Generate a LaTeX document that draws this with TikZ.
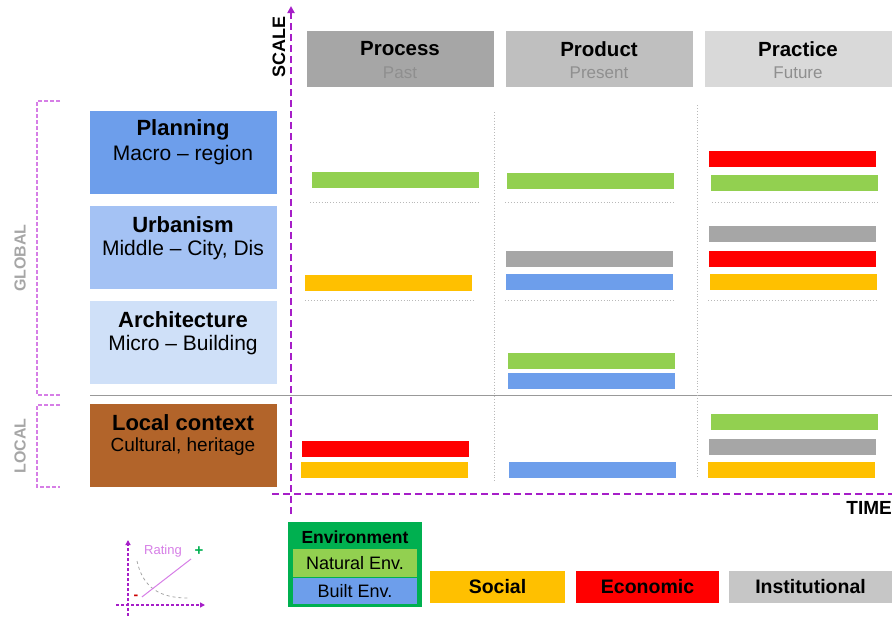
\documentclass[tikz,border=0pt]{standalone}
\usepackage{fontspec}
\setmainfont{Liberation Sans}
\usetikzlibrary{arrows.meta}
\definecolor{axispurple}{HTML}{A61EC8}
\definecolor{bracketpink}{HTML}{D67EE6}
\definecolor{planblue}{HTML}{6D9EEB}
\definecolor{urbblue}{HTML}{A4C2F4}
\definecolor{archblue}{HTML}{CFE0F8}
\definecolor{localbrown}{HTML}{B2642A}
\definecolor{envgreen}{HTML}{00B050}
\definecolor{natgreen}{HTML}{92D050}
\definecolor{socyellow}{HTML}{FFC000}
\definecolor{ecored}{HTML}{FF0000}
\definecolor{instgray}{HTML}{A6A6A6}
\definecolor{subgray}{HTML}{8F8F8F}
\tikzset{
  box/.style={rectangle,inner sep=0pt,outer sep=0pt,minimum width=187pt,minimum height=83pt},
  head/.style={rectangle,inner sep=0pt,outer sep=0pt,minimum width=187pt,minimum height=56pt},
  bar/.style={rectangle,inner sep=0pt,outer sep=0pt,minimum width=167pt,minimum height=16pt},
  key/.style={rectangle,inner sep=0pt,outer sep=0pt,minimum height=32pt,font=\bfseries\fontsize{19.5}{22}\selectfont},
  ttl/.style={font=\bfseries\fontsize{20.5}{24}\selectfont},
  rowttl/.style={font=\bfseries\fontsize{22}{26}\selectfont},
  sub/.style={font=\fontsize{21}{25}\selectfont},
  headsub/.style={text=subgray,font=\fontsize{17}{20}\selectfont},
  side/.style={rotate=90,text=instgray,font=\bfseries\fontsize{16}{19}\selectfont},
  axis/.style={axispurple,line width=2.8pt,dash pattern=on 7pt off 4pt},
  brack/.style={bracketpink,line width=1.2pt,dash pattern=on 4pt off 2pt},
  sep/.style={gray!55,line width=0.9pt,dotted}
}
\begin{document}
\begin{tikzpicture}[x=1pt,y=-1pt]
\useasboundingbox (0,0) rectangle (892,619);
% column heads
\node[head,fill=instgray] (process) at (400,59) {};
\node[head,fill=gray!50] (product) at (599,59) {};
\node[head,fill=gray!30] (practice) at (798,59) {};
\node[ttl] (processt) at (400,49) {Process};
\node[headsub] (processs) at (400,73) {Past};
\node[ttl] (productt) at (599,49) {Product};
\node[headsub] (products) at (599,73) {Present};
\node[ttl] (practicet) at (798,49) {Practice};
\node[headsub] (practices) at (798,73) {Future};
% scale rows
\node[box,fill=planblue] (plan) at (183,152.5) {};
\node[rowttl] (plant) at (183,130) {Planning};
\node[sub] (plans) at (183,155) {Macro -- region};
\node[box,fill=urbblue] (urb) at (183,247.5) {};
\node[rowttl] (urbt) at (183,225) {Urbanism};
\node[sub] (urbs) at (183,250) {Middle -- City, Dis};
\node[box,fill=archblue] (arch) at (183,342.5) {};
\node[rowttl] (archt) at (183,320) {Architecture};
\node[sub] (archs) at (183,345) {Micro -- Building};
\node[box,fill=localbrown] (local) at (183,445.5) {};
\node[rowttl] (localt) at (183,423) {Local context};
\node[sub,font=\fontsize{19}{22}\selectfont] (locals) at (183,447) {Cultural, heritage};
% global / local brackets
\draw[brack] (60,101) -- (37,101) -- (37,395) -- (60,395);
\draw[brack] (60,405) -- (37,405) -- (37,487) -- (60,487);
\node[side] (global) at (20,258) {GLOBAL};
\node[side] (loc) at (20,446) {LOCAL};
% grid
\draw[gray!80,line width=1pt] (90,395) -- (892,395);
\draw[sep] (494,112) -- (494,482);
\draw[sep] (697,105) -- (697,478);
\foreach \a/\b in {310/480,505/675,712/880} \draw[sep] (\a,202) -- (\b,202);
\foreach \a/\b in {305/475,505/675,708/877} \draw[sep] (\a,300) -- (\b,300);
% bars
\foreach \x/\y/\c [count=\i] in {395.5/180/natgreen, 388.5/282.5/socyellow, 385.5/449/ecored, 384/470/socyellow,
  590.5/181/natgreen, 589/259/instgray, 589/282/planblue, 591.5/360.5/natgreen, 591.5/381/planblue, 592.5/470/planblue,
  792.5/159/ecored, 794.5/183/natgreen, 792/234/instgray, 792/259/ecored, 793/282/socyellow,
  794.5/422/natgreen, 792.5/447/instgray, 791.5/470/socyellow}
  \node[bar,fill=\c] (bar\i) at (\x,\y) {};
% axes
\coordinate (sbot) at (291,514);
\coordinate (stop) at (291,6);
\coordinate (tleft) at (272,494);
\coordinate (tright) at (892,494);
\draw[axis,-{Triangle[length=7pt,width=7pt]}] (sbot) -- (stop);
\draw[axis] (tleft) -- (tright);
\node[rotate=90,font=\bfseries\fontsize{18}{21}\selectfont] (scale) at (279,47) {SCALE};
\node[anchor=east,inner sep=0pt,font=\bfseries\fontsize{19}{22}\selectfont] (time) at (892,508) {TIME};
% legend
\node[rectangle,inner sep=0pt,minimum width=134pt,minimum height=85pt,fill=envgreen] (env) at (355,564.5) {};
\node[font=\bfseries\fontsize{17.5}{21}\selectfont] (envt) at (355,537) {Environment};
\node[rectangle,inner sep=0pt,minimum width=124pt,minimum height=28pt,fill=natgreen,font=\fontsize{18}{21}\selectfont] (nat) at (355,563) {Natural Env.};
\node[rectangle,inner sep=0pt,minimum width=124pt,minimum height=26pt,fill=planblue,font=\fontsize{18}{21}\selectfont] (built) at (355,591) {Built Env.};
\node[key,minimum width=135pt,fill=socyellow] (social) at (497.5,587) {Social};
\node[key,minimum width=143pt,fill=ecored] (eco) at (647.5,587) {Economic};
\node[key,minimum width=163pt,fill=gray!45] (inst) at (810.5,587) {Institutional};
% rating sketch
\coordinate (ry0) at (128,616);
\coordinate (ry1) at (128,540);
\coordinate (rx0) at (116,605);
\coordinate (rx1) at (205,605);
\draw[axispurple,line width=1.6pt,dash pattern=on 3pt off 2pt,-{Triangle[length=5pt,width=5pt]}] (ry0) -- (ry1);
\draw[axispurple,line width=1.6pt,dash pattern=on 3pt off 2pt,-{Triangle[length=5pt,width=5pt]}] (rx0) -- (rx1);
\draw[gray!70,line width=0.8pt,dashed] (137,561) .. controls (143,588) and (160,598) .. (188,598);
\node[text=bracketpink,font=\fontsize{13}{15}\selectfont] (rating) at (163,551) {Rating};
\node[text=envgreen,font=\bfseries\fontsize{15}{17}\selectfont] (plus) at (199,551) {+};
\node[text=ecored!80!black,font=\bfseries\fontsize{14}{16}\selectfont] (minus) at (136,597) {-};
\draw[bracketpink,line width=1pt] (minus.east) -- (plus.south west);
\end{tikzpicture}
\end{document}
